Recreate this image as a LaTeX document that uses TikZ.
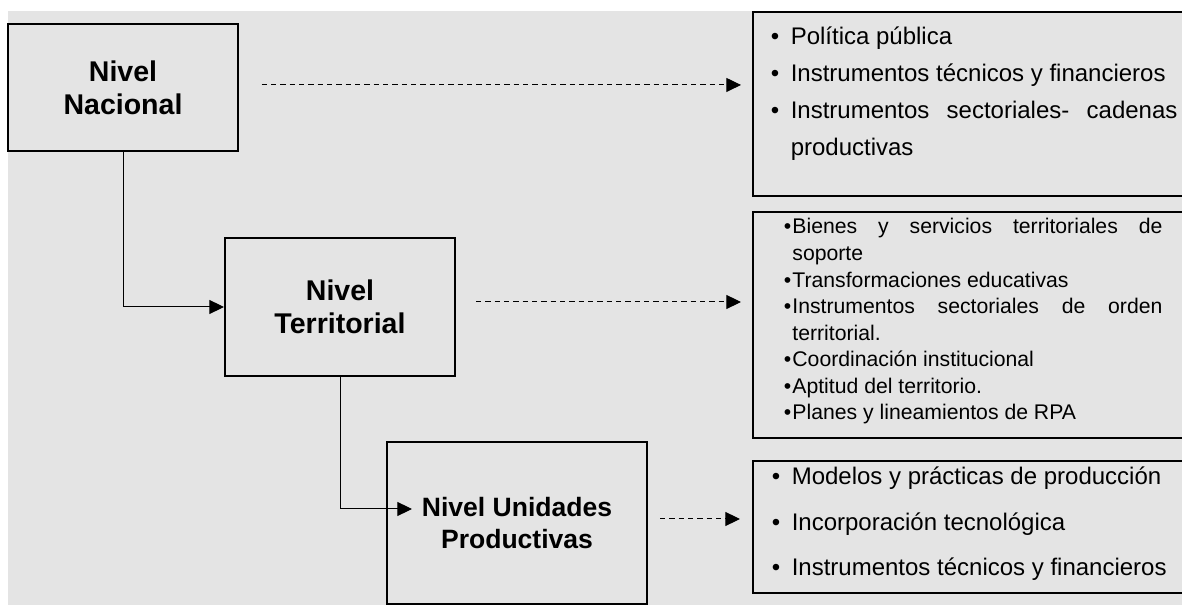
\documentclass[tikz,border=0pt]{standalone}
\usepackage{fontspec}
\setmainfont{Liberation Sans}
\usetikzlibrary{arrows.meta}
\definecolor{fondo}{RGB}{228,228,228}
\newcommand{\vineta}[2]{\noindent\hangindent=#1\hangafter=1\makebox[#1][l]{\textbullet}#2\par}

\begin{document}
\begin{tikzpicture}[x=0.75pt,y=-0.75pt,>={Triangle[length=11pt,width=10.5pt]},
  nivel/.style={draw,line width=1.5pt,align=center,font=\bfseries\fontsize{21.4}{25}\selectfont},
  panel/.style={draw,line width=1.5pt,anchor=north west,minimum width=328.5pt,inner sep=0pt},
  lista/.style={anchor=base west,inner sep=0pt,align=justify},
  enlace/.style={->,line width=0.75pt},
  punteada/.style={->,line width=0.75pt,dash pattern=on 4pt off 3pt}]
\clip (0,0) rectangle (1182,605);
\fill[fondo] (8,11) rectangle (1182,605);

\node[nivel,minimum width=172.5pt,minimum height=95.25pt] (nac) at (123,87.5) {Nivel\\Nacional};
\node[nivel,minimum width=172.5pt,minimum height=103.5pt] (ter) at (340,307) {Nivel\\Territorial};
\node[nivel,minimum width=195pt,minimum height=121.5pt,font=\bfseries\fontsize{19.9}{24}\selectfont] (uni) at (517,523) {Nivel Unidades\\Productivas};

\node[panel,minimum height=138pt] (pol) at (752,11) {};
\node[panel,minimum height=169.5pt] (bie) at (752,211) {};
\node[panel,minimum height=99pt] (mod) at (752,460) {};

\node[lista,text width=305pt,font=\fontsize{18}{27.75}\selectfont] (lpol) at (770.5,45) {%
\vineta{15pt}{Política pública}
\vineta{15pt}{Instrumentos técnicos y financieros}
\vineta{15pt}{Instrumentos sectoriales- cadenas\linebreak productivas}};
\node[lista,text width=284pt,font=\fontsize{15.9}{19.9}\selectfont] (lbie) at (783.5,234) {%
\vineta{6.5pt}{Bienes y servicios territoriales de\linebreak soporte}
\vineta{6.5pt}{Transformaciones educativas}
\vineta{6.5pt}{Instrumentos sectoriales de orden\linebreak territorial.}
\vineta{6.5pt}{Coordinación institucional}
\vineta{6.5pt}{Aptitud del territorio.}
\vineta{6.5pt}{Planes y lineamientos de RPA}};
\node[lista,text width=305pt,font=\fontsize{18}{34.1}\selectfont] (lmod) at (771.5,485) {%
\vineta{15pt}{Modelos y prácticas de producción}
\vineta{15pt}{Incorporación tecnológica}
\vineta{15pt}{Instrumentos técnicos y financieros}};

\draw[enlace] (nac.south) |- (ter.west);
\coordinate (entrada) at (412,509);
\draw[enlace] (ter.south) |- (entrada);

\draw[punteada,shorten <=17pt,shorten >=8.25pt] ([yshift=1.9pt]nac.east) -- ([yshift=1.9pt]nac.east -| pol.west);
\draw[punteada,shorten <=15pt,shorten >=8.25pt] ([yshift=3.75pt]ter.east) -- ([yshift=3.75pt]ter.east -| bie.west);
\draw[punteada,shorten <=9pt,shorten >=9pt] ([yshift=3pt]uni.east) -- ([yshift=3pt]uni.east -| mod.west);
\end{tikzpicture}
\end{document}
